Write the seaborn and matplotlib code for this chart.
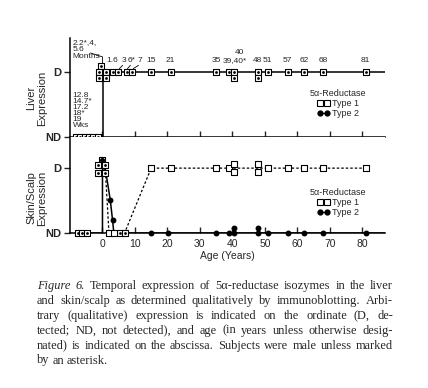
import numpy as np
import pandas as pd
import matplotlib
matplotlib.use("Agg")
import matplotlib.pyplot as plt
from matplotlib.lines import Line2D
import seaborn as sns

sns.set_theme(style="ticks")
plt.rcParams['font.family'] = ['Liberation Sans', 'DejaVu Sans']

# ---- liver: type 1 and type 2 found together (same points)
liver_fetal_x = [-8.3, -6.9, -5.5, -4.2, -2.8, -1.4]
liver_fetal_y = [0, 0, 0, 0, 0, 0]
liver_month_x = [-0.3, -1.1, 1.2, -1.1, 1.2]
liver_month_y = [1.09, 1.0, 1.0, 0.9, 0.9]
liver_x = [3.1, 4.9, 7.4, 9.2, 15, 21, 35, 39, 40.5, 40.5, 48, 48, 51, 57, 62, 68, 81]
liver_y = [1, 1, 1, 1, 1, 1, 1, 1, 1, 0.9, 1, 0.9, 1, 1, 1, 1, 1]
liver_line_x = [-8.3, 0.3, 0.3, 87]
liver_line_y = [0, 0, 1, 1]
liver_age_labels = ['1.6', '3', '6*', '7', '15', '21', '35', '39,40*', '48', '51', '57', '62', '68', '81']
liver_label_x = [3.1, 6.5, 8.9, 11.4, 15, 21, 35, 40.6, 47.7, 50.8, 57, 62, 68, 81]

# ---- skin / scalp
skin_fetal_x = [-7.4, -6.2, -4.9]
skin_month_x = [-0.1, -1.5, 0.9, -1.5, 0.9]
skin_month_y = [1.12, 1.05, 1.05, 0.92, 0.92]
skin_early_x = [5.5, 6.8]                       # ND for both types
skin_t1_nd_x = [1.9, 3.6]                       # type 1 not detected
skin_t1_x = [15, 21, 35, 39, 40.5, 40.5, 48, 48, 51, 57, 62, 68, 81]
skin_t1_y = [1, 1, 1, 1, 1.06, 0.94, 1.06, 0.94, 1, 1, 1, 1, 1]
skin_t1_line_x = [0.9, 2.0, 6.8, 15, 81]
skin_t1_line_y = [0.95, 0, 0, 1, 1]
skin_t2_x = [2.4, 3.1, 15, 20.3, 35, 39, 40.5, 40.5, 48, 48, 51, 57, 62, 68, 81]
skin_t2_y = [0.51, 0.2, 0, 0, 0, 0, 0, 0.08, 0, 0.08, 0, 0, 0, 0, 0]
skin_t2_line_x = [-4.9, 0, 0, 0.9, 2.4, 3.1, 3.5, 87]
skin_t2_line_y = [0, 0, 1.0, 0.98, 0.51, 0.2, 0, 0]

caption = [
    "Figure 6. Temporal expression of 5\u03b1-reductase isozymes in the liver",
    "and skin/scalp as determined qualitatively by immunoblotting. Arbi-",
    "trary (qualitative) expression is indicated on the ordinate (D, de-",
    "tected; ND, not detected), and age (in years unless otherwise desig-",
    "nated) is indicated on the abscissa. Subjects were male unless marked",
    "by an asterisk.",
]

fig = plt.figure(figsize=(4.28, 3.88), dpi=100)
ax1 = fig.add_axes([70/428, 1-137/388, 315/428, 99/388])
ax2 = fig.add_axes([70/428, 1-233/388, 315/428, 96/388])


def boxed(ax, x, y, dot=True, dot_size=4):
    sns.scatterplot(x=x, y=y, marker='s', s=24, color='white', edgecolor='black',
                    linewidth=0.8, ax=ax, clip_on=False, zorder=4)
    if dot:
        sns.scatterplot(x=x, y=y, marker='o', s=dot_size, color='black', linewidth=0,
                        ax=ax, clip_on=False, zorder=5)


# liver panel
sns.lineplot(x=liver_line_x, y=liver_line_y, sort=False, estimator=None,
             color='black', lw=1.1, ax=ax1, zorder=3)
boxed(ax1, liver_fetal_x, liver_fetal_y)
boxed(ax1, liver_month_x, liver_month_y)
boxed(ax1, liver_x, liver_y)

lab_fs = 6.0
for lab, lx in zip(liver_age_labels, liver_label_x):
    ax1.text(lx, 1.17, lab, ha='center', va='center', fontsize=lab_fs)
ax1.text(42.2, 1.30, '40', ha='center', va='center', fontsize=lab_fs)
for lx, mx in [(6.5, 4.9), (8.9, 7.4), (11.4, 9.2)]:
    ax1.plot([lx - 0.3, mx + 0.3], [1.10, 1.05], color='black', lw=0.6)
ax1.plot([-3.7, 0, 0], [1.29, 1.23, 1.14], color='black', lw=0.6)
ax1.text(-9.2, 1.50, "2.2*,4,\n5.6\nMonths", ha='left', va='top', fontsize=lab_fs,
         linespacing=0.95)
ax1.text(-9.2, 0.69, "12.8\n14.7*\n17.2\n18*\n19\nWks", ha='left', va='top',
         fontsize=lab_fs, linespacing=0.8)

# skin panel
sns.lineplot(x=skin_t2_line_x, y=skin_t2_line_y, sort=False, estimator=None,
             color='black', lw=1.1, ax=ax2, zorder=3)
sns.lineplot(x=skin_t1_line_x, y=skin_t1_line_y, sort=False, estimator=None,
             color='black', lw=0.9, linestyle=(0, (2, 1.6)), ax=ax2, zorder=3)
boxed(ax2, skin_fetal_x, [0] * len(skin_fetal_x))
boxed(ax2, skin_month_x, skin_month_y)
sns.scatterplot(x=[skin_month_x[0]], y=[skin_month_y[0]], marker='o', s=14,
                color='black', linewidth=0, ax=ax2, zorder=6)
boxed(ax2, skin_early_x, [0] * len(skin_early_x))
boxed(ax2, skin_t1_nd_x, [0] * len(skin_t1_nd_x), dot=False)
boxed(ax2, skin_t1_x, skin_t1_y, dot=False)
sns.scatterplot(x=skin_t2_x, y=skin_t2_y, marker='o', s=18, color='black',
                linewidth=0, ax=ax2, clip_on=False, zorder=5)

for ax, top in [(ax1, 1.52), (ax2, 1.48)]:
    ax.set_xlim(-10, 87)
    ax.set_ylim(0, top)
    ax.set_yticks([0, 1])
    ax.set_yticklabels(['ND', 'D'], fontsize=8, fontweight='bold')
    ax.set_xticks(range(0, 81, 10))
    ax.tick_params(axis='x', direction='in', length=4, width=1, labelsize=7.5, pad=4)
    ax.tick_params(axis='y', direction='out', length=4, width=1, pad=2)
    for s in ['top', 'right']:
        ax.spines[s].set_visible(False)
    for s in ['left', 'bottom']:
        ax.spines[s].set_linewidth(1.1)
        ax.spines[s].set_color('black')
    ax.set_ylabel('')
ax1.set_xticklabels([])
ax2.set_xlabel('Age (Years)', fontsize=7.5, labelpad=2)

fig.text(37/428, 1-98/388, "Liver\nExpression", rotation=90, ha='center', va='center',
         fontsize=8, linespacing=1.1)
fig.text(37/428, 1-198/388, "Skin/Scalp\nExpression", rotation=90, ha='center',
         va='center', fontsize=8, linespacing=1.1)

# legends
for ax, ls, ytop in [(ax1, '-', 89), (ax2, (0, (2, 1.5)), 188)]:
    h1 = Line2D([], [], color='black', lw=0.8, ls=ls, marker='s', ms=4.5,
                mfc='white', mec='black', mew=0.8)
    h2 = Line2D([], [], color='black', lw=0.8, ls='-', marker='o', ms=3.5,
                mfc='black', mec='black')
    leg = ax.legend([h1, h2], ['Type 1', 'Type 2'], title='5\u03b1-Reductase',
                    loc='upper left', bbox_to_anchor=(310/428, 1-ytop/388),
                    bbox_transform=fig.transFigure, frameon=False, fontsize=6.5,
                    title_fontsize=6.5, handlelength=1.4, handletextpad=0.3,
                    labelspacing=0.1, borderpad=0, borderaxespad=0, numpoints=2)

# caption, justified
cap_fs = 8.9
serif = ['Liberation Serif', 'DejaVu Serif']
renderer = fig.canvas.get_renderer()
x0, x1 = 37/428, 393/428
for i, line in enumerate(caption):
    y = 1 - (286 + 14.9 * i) / 388
    words = line.split(' ')
    texts = []
    for j, w in enumerate(words):
        style = 'italic' if (i == 0 and j < 2) else 'normal'
        texts.append(fig.text(0, y, w, fontsize=cap_fs, family=serif, style=style,
                              va='center', ha='left'))
    widths = [t.get_window_extent(renderer).width / fig.bbox.width for t in texts]
    if i < len(caption) - 1:
        gap = max((x1 - x0 - sum(widths)) / (len(texts) - 1), 1.5 / 428)
    else:
        gap = 2.8 / 428
    xc = x0
    for t, w in zip(texts, widths):
        t.set_x(xc)
        xc += w + gap

fig.savefig('out.png', dpi=100)
